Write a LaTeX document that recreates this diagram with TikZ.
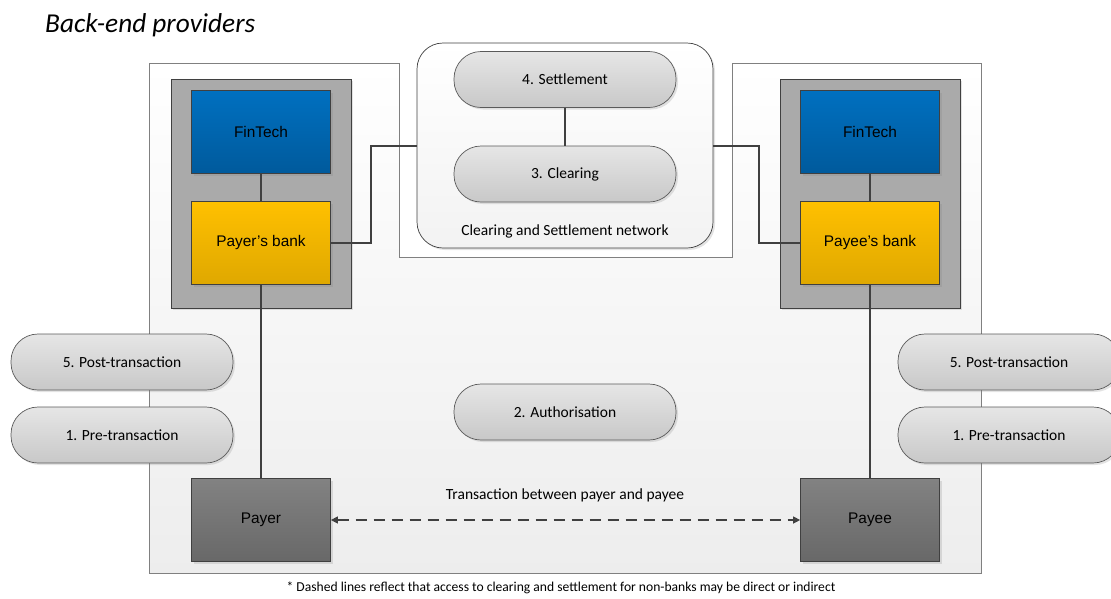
\documentclass[tikz,border=0pt]{standalone}
\usepackage{fontspec}
\setmainfont{Carlito}
\newfontfamily\arialf{Liberation Sans}
\usetikzlibrary{shadows,arrows.meta,calc}
\definecolor{linec}{HTML}{404040}
\definecolor{framec}{HTML}{808080}
\definecolor{pilltop}{HTML}{E6E6E6}
\definecolor{pillbot}{HTML}{C8C8C8}
\definecolor{pillbd}{HTML}{5A5A5A}
\definecolor{graybox}{HTML}{AAAAAA}
\definecolor{blueT}{HTML}{0070C0}
\definecolor{blueB}{HTML}{005A9C}
\definecolor{yelT}{HTML}{FFC000}
\definecolor{yelB}{HTML}{DFA800}
\definecolor{darkT}{HTML}{828282}
\definecolor{darkB}{HTML}{686868}
\begin{document}
\begin{tikzpicture}[x=1pt,y=-1pt,
  shad/.style={drop shadow={shadow xshift=2pt,shadow yshift=-2pt,opacity=0.22}},
  pill/.style={draw=pillbd,line width=0.7pt,rounded corners=27pt,minimum width=222pt,minimum height=56pt,
    inner sep=0pt,top color=pilltop,bottom color=pillbot,font=\fontsize{15.5}{18}\selectfont,shad},
  holder/.style={draw=linec,line width=0.8pt,fill=graybox,minimum width=180pt,minimum height=229pt,inner sep=0pt,shad},
  boxbase/.style={draw=linec,line width=0.7pt,minimum width=139pt,minimum height=83pt,inner sep=0pt,
    font=\arialf\fontsize{15.4}{18}\selectfont,shad},
  fintech/.style={boxbase,top color=blueT,bottom color=blueB},
  bank/.style={boxbase,top color=yelT,bottom color=yelB},
  party/.style={boxbase,top color=darkT,bottom color=darkB},
  conn/.style={draw=linec,line width=1.2pt},
  lbl/.style={font=\fontsize{15.5}{18}\selectfont,inner sep=0pt}
]
\useasboundingbox (0,0) rectangle (1111,598);

% outer frame
\path[draw=framec,line width=0.8pt,top color=white,bottom color=black!7]
  (149,63) -- (399,63) -- (399,257) -- (732,257) -- (732,63) -- (981,63) -- (981,573) -- (149,573) -- cycle;

\node[anchor=west,inner sep=0pt,font=\itshape\fontsize{27.3}{32}\selectfont] (title) at (45,25) {Back-end providers};

% clearing and settlement network
\node[draw=linec,line width=0.7pt,rounded corners=26pt,minimum width=296pt,minimum height=205pt,
  top color=white,bottom color=black!5,shad] (csn) at (565,145.5) {};
\node[pill] (set) at (565,79.5) {4. Settlement};
\node[pill] (clr) at (565,174) {3. Clearing};
\node[lbl] (csnl) at (565,231) {Clearing and Settlement network};
\draw[conn] (set.south) -- (clr.north);

% holders
\node[holder] (lh) at (261,193.5) {};
\node[holder] (rh) at (870,193.5) {};

\node[fintech] (lft) at (261,132) {FinTech};
\node[bank] (pb) at (261,243) {Payer’s bank};
\node[fintech] (rft) at (870,132) {FinTech};
\node[bank] (qb) at (870,243) {Payee’s bank};
\draw[conn] (lft.south) -- (pb.north);
\draw[conn] (rft.south) -- (qb.north);

\coordinate (j1) at (371,146);
\coordinate (j2) at (759,146);
\draw[conn] (pb.east) -| (j1) -- (j1 -| csn.west);
\draw[conn] (csn.east |- j2) -- (j2) |- (qb.west);

% payer / payee
\node[party] (payer) at (261,520) {Payer};
\node[party] (payee) at (870,520) {Payee};
\draw[conn] (pb.south) -- (payer.north);
\draw[conn] (qb.south) -- (payee.north);

\node[lbl] (trl) at (565,495) {Transaction between payer and payee};
\draw[conn,dash pattern=on 11pt off 7pt,{Triangle[length=7pt,width=7pt]}-{Triangle[length=7pt,width=7pt]}]
  (payer.east) -- (payee.west);

% phase pills
\node[pill] (auth) at (565,412) {2. Authorisation};
\node[pill] (lpost) at (122,362) {5. Post-transaction};
\node[pill] (lpre) at (122,435) {1. Pre-transaction};
\node[pill] (rpost) at (1009,362) {5. Post-transaction};
\node[pill] (rpre) at (1009,435) {1. Pre-transaction};

\node[inner sep=0pt,font=\fontsize{13.6}{16}\selectfont] (note) at (561,588)
  {* Dashed lines reflect that access to clearing and settlement for non-banks may be direct or indirect};
\end{tikzpicture}
\end{document}
